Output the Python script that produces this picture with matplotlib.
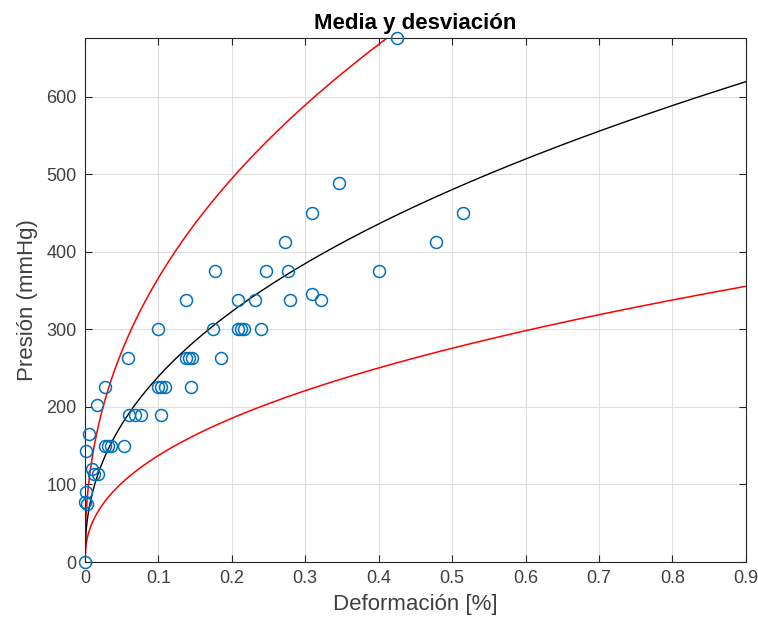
import matplotlib
matplotlib.use("Agg")
import matplotlib.pyplot as plt
import numpy as np

# measured strain [%] vs pressure [mmHg]
strain = [0.000, 0.001, 0.000, 0.003, 0.002, 0.006, 0.017, 0.010, 0.012, 0.018,
          0.027, 0.032, 0.036, 0.053, 0.027, 0.060, 0.068, 0.076, 0.103, 0.059,
          0.099, 0.104, 0.109, 0.144, 0.099, 0.137, 0.142, 0.146, 0.186, 0.138,
          0.175, 0.208, 0.212, 0.216, 0.240, 0.177, 0.209, 0.231, 0.246, 0.273,
          0.277, 0.279, 0.309, 0.309, 0.322, 0.346, 0.425, 0.401, 0.478, 0.515]
pressure = [0, 90, 77, 75, 143, 165, 203, 120, 113, 113,
            150, 150, 150, 150, 226, 190, 190, 190, 190, 263,
            226, 226, 226, 226, 300, 263, 263, 263, 263, 338,
            300, 300, 300, 300, 300, 375, 338, 338, 375, 413,
            375, 338, 450, 345, 338, 488, 675, 375, 413, 450]

# fitted power law p = a * e^b (mean, upper and lower band)
fit_exp = 0.433
coef_mean = 648
coef_upper = 992
coef_lower = 372

plt.rcParams["font.family"] = ["Liberation Sans", "DejaVu Sans"]

fig = plt.figure(figsize=(7.58, 6.28), dpi=100)
axis = fig.add_axes([0.112, 0.105, 0.872, 0.834])

x_fit = np.linspace(0, 0.9, 600)
axis.plot(x_fit, coef_upper * x_fit ** fit_exp, color="#FF0000", lw=1.1, zorder=2)
axis.plot(x_fit, coef_lower * x_fit ** fit_exp, color="#FF0000", lw=1.1, zorder=2)
axis.plot(x_fit, coef_mean * x_fit ** fit_exp, color="black", lw=1.0, zorder=2)
axis.plot(strain, pressure, "o", mfc="none", mec="#0072BD", ms=8.6, mew=1.1,
          zorder=3, clip_on=False)

axis.set_xlim(0, 0.9)
axis.set_ylim(0, 675)
axis.set_xticks(np.arange(0, 0.91, 0.1))
axis.set_xticklabels(["0", "0.1", "0.2", "0.3", "0.4", "0.5", "0.6", "0.7", "0.8", "0.9"])
axis.set_yticks(np.arange(0, 601, 100))
axis.grid(True, color="#DFDFDF", lw=0.8)
axis.set_axisbelow(True)
axis.tick_params(direction="in", top=True, right=True, length=5, width=0.8,
                 colors="#262626", labelsize=13, pad=6)
for label in axis.get_xticklabels() + axis.get_yticklabels():
    label.set_color("#404040")
for spine in axis.spines.values():
    spine.set_color("#262626")
    spine.set_linewidth(0.8)

axis.set_xlabel("Deformación [%]", fontsize=16, color="#404040", labelpad=5)
axis.set_ylabel("Presión (mmHg)", fontsize=16, color="#404040", labelpad=6)
axis.set_title("Media y desviación", fontsize=16, fontweight="bold", pad=7)

fig.savefig("out.png", dpi=100)
